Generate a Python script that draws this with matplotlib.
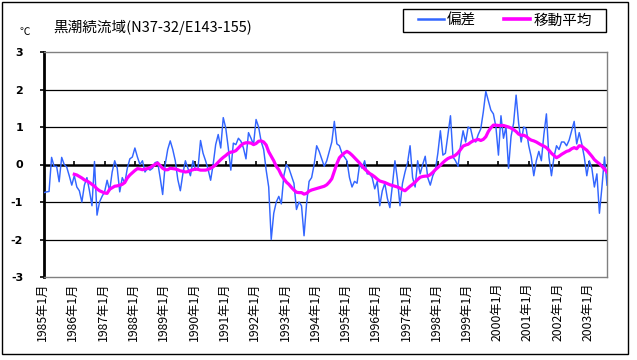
import matplotlib
matplotlib.use("Agg")
import matplotlib.pyplot as plt
import matplotlib.transforms as mtransforms
from matplotlib.lines import Line2D
from matplotlib.patches import Rectangle

plt.rcParams['font.family'] = ['Noto Sans CJK JP', 'DejaVu Sans']

title = "黒潮続流域(N37-32/E143-155)"
unit_label = "℃"
legend_labels = ["偏差", "移動平均"]
years = list(range(1985, 2004))
year_labels = [f"{y}年1月" for y in years]

# monthly anomalies 1985/1 - 2003/8
anom_1985 = [-0.75, -0.73, -0.72, 0.19, -0.05, -0.05, -0.46, 0.19, 0.0, -0.07, -0.3, -0.55]
anom_1986 = [-0.3, -0.6, -0.7, -1.0, -0.55, -0.35, -0.7, -1.1, 0.08, -1.35, -1.0, -0.85]
anom_1987 = [-0.73, -0.42, -0.7, -0.2, 0.1, -0.1, -0.73, -0.35, -0.5, -0.1, 0.15, 0.2]
anom_1988 = [0.44, 0.2, 0.0, 0.1, -0.2, -0.1, -0.15, -0.1, 0.05, 0.07, -0.35, -0.8]
anom_1989 = [0.0, 0.4, 0.63, 0.4, 0.1, -0.4, -0.7, -0.25, 0.1, -0.1, -0.3, 0.1]
anom_1990 = [-0.15, -0.1, 0.64, 0.3, 0.1, -0.13, -0.42, 0.0, 0.53, 0.8, 0.44, 1.25]
anom_1991 = [0.97, 0.44, -0.15, 0.57, 0.53, 0.7, 0.62, 0.44, 0.15, 0.85, 0.7, 0.53]
anom_1992 = [1.2, 1.0, 0.62, 0.4, -0.15, -0.6, -2.0, -1.3, -1.0, -0.85, -1.05, -0.3]
anom_1993 = [0.0, -0.1, -0.3, -0.5, -1.2, -1.0, -1.1, -1.9, -1.05, -0.45, -0.35, 0.0]
anom_1994 = [0.5, 0.35, 0.15, -0.05, 0.1, 0.35, 0.6, 1.15, 0.55, 0.5, 0.3, 0.2]
anom_1995 = [0.1, -0.35, -0.6, -0.45, -0.5, 0.0, -0.1, 0.1, -0.25, -0.25, -0.35, -0.65]
anom_1996 = [-0.45, -1.1, -0.7, -0.5, -0.9, -1.15, -0.55, 0.1, -0.4, -1.1, -0.5, -0.2]
anom_1997 = [0.05, 0.5, -0.35, -0.6, 0.1, -0.25, 0.0, 0.22, -0.35, -0.55, -0.3, -0.15]
anom_1998 = [0.3, 0.9, 0.25, 0.3, 0.8, 1.3, 0.2, 0.1, -0.05, 0.5, 0.9, 0.6]
anom_1999 = [1.0, 0.95, 0.65, 0.6, 0.8, 0.95, 1.4, 1.95, 1.7, 1.45, 1.35, 1.0]
anom_2000 = [0.25, 1.3, 0.7, 1.0, -0.1, 0.75, 1.1, 1.85, 1.1, 0.6, 1.0, 0.95]
anom_2001 = [0.5, 0.2, -0.3, 0.1, 0.35, 0.1, 0.8, 1.35, 0.2, -0.3, 0.2, 0.5]
anom_2002 = [0.4, 0.6, 0.6, 0.5, 0.65, 0.9, 1.15, 0.55, 0.85, 0.55, 0.2, -0.3]
anom_2003 = [0.1, -0.1, -0.6, -0.25, -1.3, -0.6, 0.2, -0.55]

anomaly = (anom_1985 + anom_1986 + anom_1987 + anom_1988 + anom_1989 + anom_1990 +
           anom_1991 + anom_1992 + anom_1993 + anom_1994 + anom_1995 + anom_1996 +
           anom_1997 + anom_1998 + anom_1999 + anom_2000 + anom_2001 + anom_2002 + anom_2003)

# moving average, starting 1986/1
ma_1986 = [-0.26, -0.28, -0.32, -0.36, -0.41, -0.44, -0.48, -0.53, -0.58, -0.65, -0.7, -0.73]
ma_1987 = [-0.76, -0.77, -0.66, -0.62, -0.58, -0.57, -0.55, -0.53, -0.48, -0.36, -0.28, -0.22]
ma_1988 = [-0.16, -0.11, -0.12, -0.14, -0.12, -0.11, -0.08, -0.04, 0.0, 0.04, -0.03, -0.1]
ma_1989 = [-0.14, -0.14, -0.1, -0.11, -0.12, -0.14, -0.17, -0.18, -0.2, -0.19, -0.16, -0.14]
ma_1990 = [-0.12, -0.13, -0.15, -0.15, -0.15, -0.13, -0.1, -0.06, -0.01, 0.06, 0.13, 0.19]
ma_1991 = [0.24, 0.3, 0.33, 0.34, 0.37, 0.44, 0.51, 0.56, 0.58, 0.58, 0.57, 0.53]
ma_1992 = [0.56, 0.62, 0.63, 0.6, 0.52, 0.34, 0.22, 0.1, -0.05, -0.14, -0.28, -0.38]
ma_1993 = [-0.47, -0.53, -0.61, -0.68, -0.74, -0.75, -0.75, -0.79, -0.77, -0.71, -0.68, -0.66]
ma_1994 = [-0.64, -0.62, -0.6, -0.58, -0.54, -0.47, -0.38, -0.18, 0.02, 0.18, 0.25, 0.31]
ma_1995 = [0.35, 0.31, 0.25, 0.18, 0.11, 0.04, -0.04, -0.12, -0.18, -0.24, -0.28, -0.33]
ma_1996 = [-0.39, -0.44, -0.46, -0.48, -0.51, -0.54, -0.56, -0.58, -0.6, -0.63, -0.67, -0.7]
ma_1997 = [-0.64, -0.58, -0.53, -0.47, -0.4, -0.34, -0.32, -0.31, -0.31, -0.27, -0.21, -0.14]
ma_1998 = [-0.08, -0.02, 0.05, 0.11, 0.16, 0.19, 0.21, 0.25, 0.31, 0.4, 0.49, 0.52]
ma_1999 = [0.54, 0.59, 0.63, 0.65, 0.67, 0.64, 0.67, 0.74, 0.88, 0.98, 1.05, 1.05]
ma_2000 = [1.04, 1.04, 1.04, 1.02, 1.0, 0.97, 0.93, 0.88, 0.81, 0.78, 0.78, 0.75]
ma_2001 = [0.69, 0.65, 0.63, 0.6, 0.56, 0.52, 0.49, 0.45, 0.38, 0.3, 0.24, 0.18]
ma_2002 = [0.22, 0.27, 0.31, 0.35, 0.37, 0.42, 0.45, 0.42, 0.5, 0.49, 0.43, 0.38]
ma_2003 = [0.3, 0.22, 0.13, 0.07, 0.02, -0.05, -0.12, -0.2]

moving_avg = (ma_1986 + ma_1987 + ma_1988 + ma_1989 + ma_1990 + ma_1991 + ma_1992 +
              ma_1993 + ma_1994 + ma_1995 + ma_1996 + ma_1997 + ma_1998 + ma_1999 +
              ma_2000 + ma_2001 + ma_2002 + ma_2003)

W, H = 637, 360
fig = plt.figure(figsize=(W / 100, H / 100), dpi=100)

# outer frame
fig.patches.append(Rectangle((2 / W, 1 - 354 / H), 626 / W, 352 / H, transform=fig.transFigure,
                             fill=False, edgecolor='black', linewidth=1.0))

ax = fig.add_axes([44 / W, 1 - 277 / H, 563 / W, 225 / H])

x_anom = list(range(len(anomaly)))
offset = len(anomaly) - len(moving_avg)
x_ma = [offset + i for i in range(len(moving_avg))]

ax.set_xlim(0, len(anomaly) - 1)
ax.set_ylim(-3, 3)

for yv in [-2, -1, 1, 2]:
    ax.axhline(yv, color='black', linewidth=0.9, zorder=1)
ax.axhline(0, color='black', linewidth=1.8, zorder=1)

year_pos = [12 * i for i in range(len(years))]
ax.vlines(year_pos[1:], 0, 0.09, color='black', linewidth=1.2, zorder=1)

ax.plot(x_anom, anomaly, color='#3366FF', linewidth=1.05, zorder=3, label=legend_labels[0])
ax.plot(x_ma, moving_avg, color='#FF00FF', linewidth=2.3, zorder=4, label=legend_labels[1])

for side in ['top', 'right', 'bottom']:
    ax.spines[side].set_color('#808080')
    ax.spines[side].set_linewidth(1.0)
ax.spines['left'].set_color('black')
ax.spines['left'].set_linewidth(2.0)

ax.set_yticks([3, 2, 1, 0, -1, -2, -3])
ax.set_yticklabels(['3', '2', '1', '0', '-1', '-2', '-3'], fontweight='bold', fontsize=8,
                   family=['DejaVu Sans'])
ax.tick_params(axis='y', direction='out', length=3, width=1.2, pad=12)
ax.set_xticks([])

trans = mtransforms.blended_transform_factory(ax.transData, ax.transAxes)
for pos, lab in zip(year_pos, year_labels):
    ax.text(pos - 0.6, -0.025, lab, transform=trans, rotation=90, ha='center', va='top',
            fontsize=8.8)

fig.text(25 / W, 1 - 32 / H, unit_label, ha='center', va='center', fontsize=7.5)
fig.text(53 / W, 1 - 27 / H, title, ha='left', va='center', fontsize=10.5)

# legend frame
fig.patches.append(Rectangle((403 / W, 1 - 32 / H), 203 / W, 23 / H, transform=fig.transFigure,
                             fill=False, edgecolor='black', linewidth=1.0))
handles = [Line2D([], [], color='#3366FF', linewidth=1.8),
           Line2D([], [], color='#FF00FF', linewidth=2.6)]
leg = fig.legend(handles, legend_labels, ncol=2, loc='center left',
                 bbox_to_anchor=(418 / W, 1 - 20.5 / H), frameon=False,
                 fontsize=10.5, handlelength=1.75, handletextpad=0.25, columnspacing=1.9,
                 borderpad=0, borderaxespad=0)

fig.savefig('out.png', dpi=100)
